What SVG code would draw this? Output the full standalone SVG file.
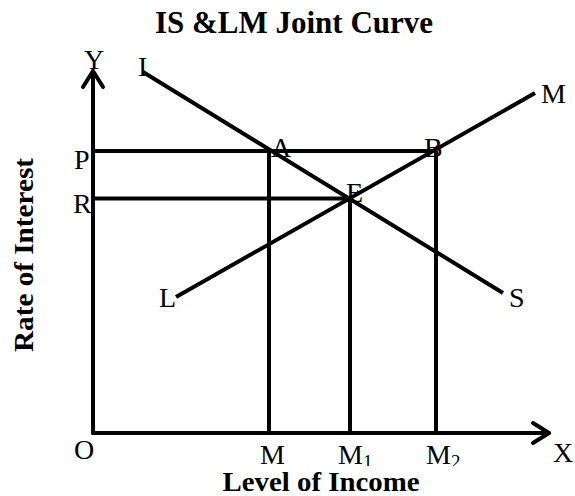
<svg xmlns="http://www.w3.org/2000/svg" width="575" height="496" viewBox="0 0 575 496">
<style>
  .ln { stroke: #000; stroke-width: 4; fill: none; stroke-linecap: butt; }
  .ax { stroke: #000; stroke-width: 4; fill: none; stroke-linecap: round; stroke-linejoin: round; }
  .lb { font-family: "Liberation Serif", "Times New Roman", serif; font-size: 28px; fill: #000; }
  .sub { font-size: 19px; }
  .bt { font-family: "Liberation Serif", "Times New Roman", serif; font-weight: bold; fill: #000; }
</style>
<defs>
  <clipPath id="clipBottom"><rect x="0" y="0" width="575" height="466"/></clipPath>
</defs>
<rect width="575" height="496" fill="#fff"/>
<g id="title"><text class="bt" x="294" y="33" font-size="31" text-anchor="middle">IS &amp;LM Joint Curve</text></g>
<g id="connectors">
  <g id="axes">
    <polyline class="ax" points="93,433 93,71"/>
    <polyline class="ax" points="83,87 93,71 103,87"/>
    <polyline class="ax" points="93,433 549,433"/>
    <polyline class="ax" points="533,423 549,433 533,443"/>
  </g>
  <line id="IS" class="ln" x1="143" y1="72" x2="503" y2="293"/>
  <line id="LM" class="ln" x1="176" y1="297" x2="535" y2="93"/>
  <line class="ln" x1="93" y1="151" x2="437" y2="151"/>
  <line class="ln" x1="93" y1="198.5" x2="350" y2="198.5"/>
  <line class="ln" x1="269" y1="151" x2="269" y2="433"/>
  <line class="ln" x1="350" y1="198.5" x2="350" y2="433"/>
  <line class="ln" x1="436" y1="151" x2="436" y2="433"/>
</g>
<g id="labels">
  <g id="label-Y"><text class="lb" x="84" y="69">Y</text></g>
  <g id="label-I"><text class="lb" x="138" y="76">I</text></g>
  <g id="label-M-top"><text class="lb" x="541" y="103">M</text></g>
  <g id="label-P"><text class="lb" x="74" y="169">P</text></g>
  <g id="label-R"><text class="lb" x="73" y="213">R</text></g>
  <g id="label-A"><text class="lb" x="271" y="157">A</text></g>
  <g id="label-B"><text class="lb" x="424" y="157">B</text></g>
  <g id="label-E"><text class="lb" x="346" y="202">E</text></g>
  <g id="label-L"><text class="lb" x="159" y="307">L</text></g>
  <g id="label-S"><text class="lb" x="509" y="307">S</text></g>
  <g id="label-O"><text class="lb" x="74" y="459">O</text></g>
  <g id="label-X"><text class="lb" x="553" y="462">X</text></g>
  <g clip-path="url(#clipBottom)">
    <g id="label-M"><text class="lb" x="260" y="464">M</text></g>
    <g id="label-M1"><text class="lb" x="338" y="464">M<tspan class="sub" dy="4">1</tspan></text></g>
    <g id="label-M2"><text class="lb" x="426" y="464">M<tspan class="sub" dy="4">2</tspan></text></g>
  </g>
  <g id="xlabel"><text class="bt" x="321" y="491" font-size="28" text-anchor="middle" textLength="197" lengthAdjust="spacingAndGlyphs">Level of Income</text></g>
  <g id="ylabel"><text class="bt" transform="translate(33,255) rotate(-90)" font-size="28" text-anchor="middle" textLength="194" lengthAdjust="spacingAndGlyphs">Rate of Interest</text></g>
</g>
</svg>
